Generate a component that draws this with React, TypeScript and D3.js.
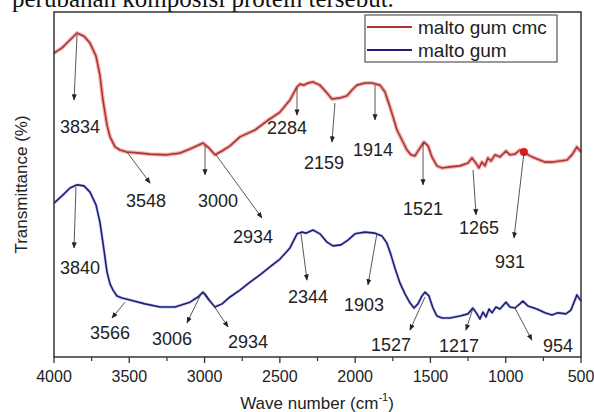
import React from "react";
import * as d3 from "d3";

// malto gum cmc (red)
const cmcWave = [4000, 3947, 3894, 3847, 3801, 3761, 3721, 3695, 3675, 3648, 3628, 3595, 3562, 3515, 3429, 3363, 3250, 3163, 3097, 3010, 2971, 2931, 2884, 2831, 2765, 2665, 2586, 2499, 2433, 2386, 2366, 2340, 2313, 2280, 2234, 2187, 2154, 2101, 2054, 2021, 1988, 1935, 1888, 1835, 1802, 1769, 1742, 1722, 1689, 1656, 1629, 1603, 1569, 1543, 1516, 1490, 1457, 1423, 1370, 1304, 1251, 1224, 1198, 1178, 1158, 1138, 1118, 1098, 1071, 1038, 998, 972, 939, 906, 879, 839, 792, 739, 686, 640, 593, 560, 527, 500];
const cmcT = [88.1, 89.6, 91.9, 93.9, 93.0, 91.0, 87.2, 81.7, 74.5, 67.2, 63.8, 60.9, 60.0, 59.4, 59.1, 58.8, 58.6, 59.1, 60.3, 62.0, 60.6, 58.6, 59.7, 61.2, 63.8, 65.8, 68.4, 71.0, 74.5, 78.3, 79.1, 78.8, 79.4, 79.7, 78.8, 76.5, 74.8, 75.1, 75.7, 77.4, 78.8, 79.4, 79.4, 78.8, 76.8, 72.5, 68.7, 65.8, 62.9, 60.0, 58.6, 58.3, 60.6, 62.3, 61.2, 58.0, 55.4, 54.8, 55.1, 55.4, 56.2, 57.7, 56.2, 54.8, 56.5, 55.4, 57.7, 56.8, 58.6, 58.0, 59.7, 58.6, 58.8, 60.0, 59.4, 58.3, 57.4, 56.5, 56.5, 56.8, 57.1, 58.6, 60.9, 59.4];

// malto gum (blue)
const gumWave = [4000, 3947, 3894, 3847, 3801, 3761, 3721, 3695, 3668, 3648, 3628, 3608, 3582, 3548, 3495, 3396, 3296, 3196, 3097, 3044, 3010, 2971, 2931, 2884, 2831, 2765, 2698, 2632, 2566, 2499, 2433, 2386, 2353, 2327, 2280, 2234, 2187, 2147, 2094, 2048, 2001, 1935, 1868, 1822, 1789, 1762, 1736, 1702, 1669, 1636, 1609, 1583, 1556, 1536, 1510, 1483, 1457, 1423, 1370, 1304, 1251, 1218, 1191, 1171, 1151, 1131, 1111, 1091, 1065, 1038, 998, 972, 939, 906, 886, 853, 793, 739, 693, 653, 600, 567, 527, 500];
const gumT = [44.6, 46.7, 49.0, 49.9, 49.6, 47.8, 44.1, 39.1, 31.0, 24.6, 21.2, 19.4, 17.7, 17.1, 16.5, 15.4, 14.5, 14.5, 15.9, 17.4, 18.8, 16.5, 14.5, 15.4, 17.4, 19.4, 21.7, 23.8, 26.1, 28.4, 31.6, 35.7, 36.2, 35.9, 36.8, 35.7, 33.3, 32.2, 32.5, 33.9, 35.7, 36.2, 35.9, 35.1, 33.0, 29.6, 25.8, 21.4, 18.3, 15.7, 14.2, 15.4, 17.7, 18.8, 17.7, 14.2, 11.9, 11.3, 11.3, 11.9, 12.5, 14.2, 12.5, 11.0, 13.0, 11.6, 13.9, 12.8, 14.5, 13.9, 15.9, 14.5, 14.2, 15.4, 16.2, 14.8, 13.9, 12.8, 12.2, 12.8, 12.5, 13.6, 18.0, 16.2];

const xTicks = [4000, 3500, 3000, 2500, 2000, 1500, 1000, 500];
const xMinorTicks = [3750, 3250, 2750, 2250, 1750, 1250, 750];

const seriesNames = ["malto gum cmc", "malto gum"];
const seriesColors = ["#ad3434", "#1e1e7e"];

// peak annotations: label, arrow start (wn, T), arrow end (wn, T), label centre (wn, T)
const peakLabels = ["3834", "3548", "3000", "2934", "2284", "2159", "1914", "1521", "1265", "931",
  "3840", "3566", "3006", "2934", "2344", "1903", "1527", "1217", "954"];
const peakFromWn = [3847, 3515, 2997, 2924, 2386, 2134, 1868, 1549, 1217, 879, 3854, 3528, 3017, 2997, 2360, 1855, 1536, 1217, 939];
const peakFromT = [93.3, 59.4, 61.2, 58.6, 78.0, 73.6, 78.8, 62.0, 54.2, 59.1, 49.3, 15.9, 18.8, 18.6, 35.9, 35.9, 17.4, 14.2, 14.2];
const peakToWn = [3867, 3362, 2997, 2619, 2386, 2154, 1868, 1549, 1197, 945, 3867, 3615, 3117, 2844, 2320, 1915, 1636, 1264, 826];
const peakToT = [74.5, 50.4, 52.8, 40.3, 70.1, 62.3, 68.7, 49.9, 41.2, 34.5, 31.6, 11.3, 9.9, 8.7, 22.3, 20.9, 7.8, 7.8, 4.9];
const labelWn = [3827, 3389, 2911, 2678, 2453, 2207, 1881, 1549, 1178, 972, 3827, 3628, 3216, 2712, 2313, 1941, 1762, 1310, 653];
const labelT = [66.7, 45.2, 45.2, 34.8, 66.4, 56.2, 60.0, 42.9, 37.4, 27.5, 25.8, 7.0, 5.2, 4.3, 17.4, 15.1, 3.5, 3.2, 3.2];

const W = 594;
const H = 412;
const left = 54;
const right = 581;
const top = 12;
const bottom = 357;
const font = "'Liberation Sans', Arial, sans-serif";

export default function App() {
  const x = d3.scaleLinear().domain([4000, 500]).range([left, right]);
  const y = d3.scaleLinear().domain([0, 100]).range([bottom, top]);

  const line = d3
    .line<[number, number]>()
    .x((d) => x(d[0]))
    .y((d) => y(d[1]));

  const cmcPath = line(d3.zip(cmcWave, cmcT) as [number, number][]) || "";
  const gumPath = line(d3.zip(gumWave, gumT) as [number, number][]) || "";

  return (
    <svg
      width={W}
      height={H}
      style={{ position: "absolute", left: 0, top: 0, background: "#fff" }}
    >
      <defs>
        <marker id="arr" viewBox="0 0 10 10" refX="9" refY="5" markerWidth="7" markerHeight="7" orient="auto-start-reverse">
          <path d="M0,1 L10,5 L0,9 z" fill="#222" />
        </marker>
      </defs>
      <rect width={W} height={H} fill="#fff" />

      {/* clipped caption line from the page above */}
      <text x={12} y={7} fontFamily="'Liberation Serif', 'Times New Roman', serif" fontSize={25} fill="#111">
        perubahan komposisi protein tersebut.
      </text>

      {/* curves */}
      <path d={cmcPath} fill="none" stroke="#f3b3b3" strokeWidth={4} strokeLinejoin="round" />
      <path d={cmcPath} fill="none" stroke={seriesColors[0]} strokeWidth={1.6} strokeLinejoin="round" />
      <path d={gumPath} fill="none" stroke="#a9acdc" strokeWidth={3} strokeOpacity={0.6} strokeLinejoin="round" />
      <path d={gumPath} fill="none" stroke={seriesColors[1]} strokeWidth={1.6} strokeLinejoin="round" />
      <circle cx={x(879)} cy={y(59.4)} r={4} fill="#d81c1c" />

      {/* annotations */}
      {peakLabels.map((lab, i) => (
        <g key={i}>
          <line
            x1={x(peakFromWn[i])}
            y1={y(peakFromT[i])}
            x2={x(peakToWn[i])}
            y2={y(peakToT[i])}
            stroke="#444"
            strokeWidth={0.9}
            markerEnd="url(#arr)"
          />
          <text
            x={x(labelWn[i])}
            y={y(labelT[i])}
            textAnchor="middle"
            dominantBaseline="central"
            fontFamily={font}
            fontSize={18}
            fill="#222"
          >
            {lab}
          </text>
        </g>
      ))}

      {/* frame */}
      <rect x={left} y={top} width={right - left} height={bottom - top} fill="none" stroke="#333" strokeWidth={1.5} />

      {/* x ticks */}
      {xTicks.map((t) => (
        <g key={t}>
          <line x1={x(t)} x2={x(t)} y1={bottom} y2={bottom + 6} stroke="#333" strokeWidth={1.3} />
          <text x={x(t)} y={bottom + 19} textAnchor="middle" dominantBaseline="central" fontFamily={font} fontSize={16} fill="#222">
            {t}
          </text>
        </g>
      ))}
      {xMinorTicks.map((t) => (
        <line key={t} x1={x(t)} x2={x(t)} y1={bottom} y2={bottom + 4} stroke="#333" strokeWidth={1.2} />
      ))}

      {/* axis titles */}
      <text x={317} y={403} textAnchor="middle" dominantBaseline="central" fontFamily={font} fontSize={17} fill="#222">
        Wave number (cm
        <tspan dy={-6} fontSize={11}>-1</tspan>
        <tspan dy={6}>)</tspan>
      </text>
      <text
        transform={`translate(21, ${(top + bottom) / 2}) rotate(-90)`}
        textAnchor="middle"
        dominantBaseline="central"
        fontFamily={font}
        fontSize={17}
        fill="#222"
      >
        Transmittance (%)
      </text>

      {/* legend */}
      <rect x={365} y={15} width={192} height={47} fill="#fff" stroke="#555" strokeWidth={1.2} />
      {seriesNames.map((n, i) => (
        <g key={n}>
          <line x1={367} x2={412} y1={27 + i * 23} y2={27 + i * 23} stroke={seriesColors[i]} strokeWidth={1.8} />
          <text x={418} y={27 + i * 23} dominantBaseline="central" fontFamily={font} fontSize={19} fill="#222">
            {n}
          </text>
        </g>
      ))}
    </svg>
  );
}
